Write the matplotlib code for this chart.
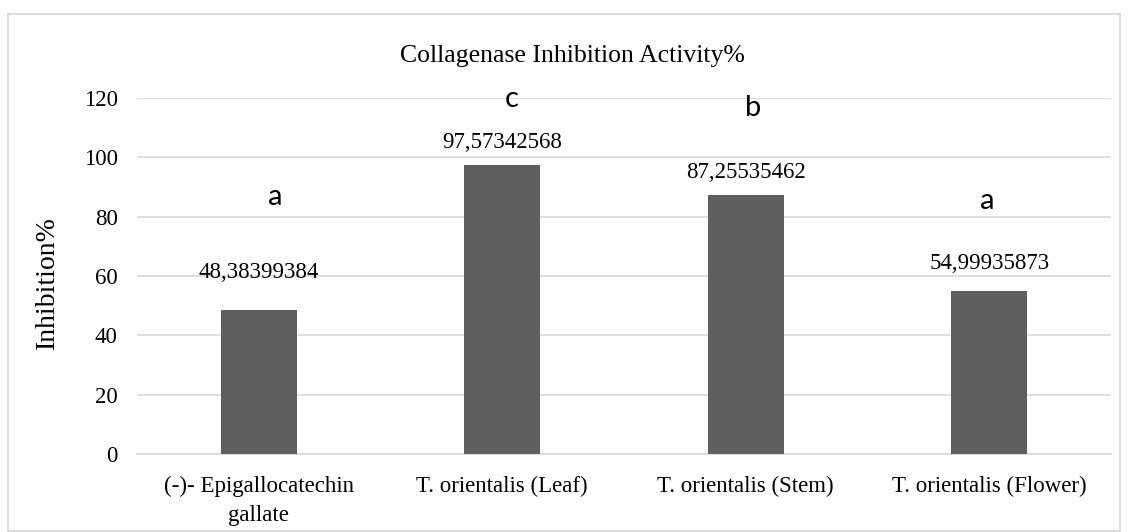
import matplotlib
matplotlib.use("Agg")
import matplotlib.pyplot as plt
import matplotlib.patches as mpatches

# data
categories = ["(-)- Epigallocatechin\ngallate", "T. orientalis (Leaf)",
              "T. orientalis (Stem)", "T. orientalis (Flower)"]
inhibition = [48.38399384, 97.57342568, 87.25535462, 54.99935873]
letters = ["a", "c", "b", "a"]
y_ticks = [0, 20, 40, 60, 80, 100, 120]

# where the hand-placed text boxes sit (data units, baseline)
label_y = [59.3, 103.1, 93.0, 62.4]
letter_y = [83.9, 117.0, 113.9, 82.6]
letter_dx = [0.066, 0.04, 0.03, -0.01]

SERIF = "Liberation Serif"
plt.rcParams["font.family"] = [SERIF, "DejaVu Serif"]

W, H = 1128, 532
fig = plt.figure(figsize=(W / 100, H / 100), dpi=100)
ax = fig.add_axes([137 / W, 1 - 454 / H, (1111 - 137) / W, (454 - 98) / H])

x = list(range(len(categories)))
ax.bar(x, inhibition, width=0.312, color="#5F5F5F", zorder=3)

ax.set_xlim(-0.5, len(categories) - 0.5)
ax.set_ylim(0, 120)
ax.set_yticks(y_ticks)
ax.set_yticklabels([str(t) for t in y_ticks], fontsize=16.5)
ax.set_xticks(x)
ax.set_xticklabels(categories, fontsize=16.5, linespacing=1.45)
ax.tick_params(axis="both", length=0)
ax.tick_params(axis="y", pad=14)
ax.tick_params(axis="x", pad=16)

ax.grid(axis="y", color="#D9D9D9", linewidth=1.2, zorder=0)
for side in ("top", "right", "left"):
    ax.spines[side].set_visible(False)
ax.spines["bottom"].set_color("#D9D9D9")
ax.spines["bottom"].set_linewidth(1.2)

for i, v in enumerate(inhibition):
    txt = f"{v:.8f}".replace(".", ",")
    ax.text(i, label_y[i], txt, ha="center", va="baseline", fontsize=16.5,
            zorder=4)
    ax.text(i + letter_dx[i], letter_y[i], letters[i], ha="center",
            va="baseline", fontsize=21, family=["Lato", "DejaVu Sans"],
            clip_on=False, zorder=4)

ax.set_ylabel("Inhibition%", fontsize=20)
ax.yaxis.set_label_coords((60 - 137) / (1111 - 137), (454 - 283) / (454 - 98))

fig.text(572 / W, 1 - 62 / H, "Collagenase Inhibition Activity%",
         ha="center", va="baseline", fontsize=18.5)

border = mpatches.Rectangle((8 / W, 1 - 531 / H), (1120 - 8) / W, (531 - 14) / H,
                            transform=fig.transFigure, fill=False,
                            edgecolor="#D9D9D9", linewidth=1.3)
fig.patches.append(border)

fig.savefig("out.png", dpi=100)
